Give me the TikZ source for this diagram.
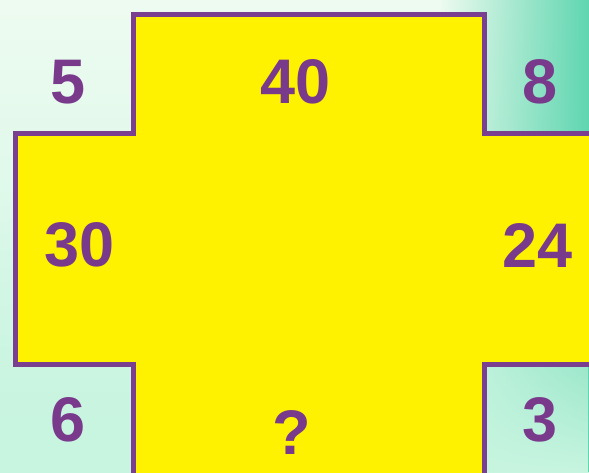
\documentclass[tikz,border=0pt]{standalone}
\usepackage{fontspec}
\setmainfont{Liberation Sans}
\usepackage{xcolor}
\definecolor{crossfill}{HTML}{FFF200}
\definecolor{crossline}{HTML}{7B3F90}
\definecolor{numpurple}{HTML}{7A3A8C}
\definecolor{bgleft}{HTML}{EEFBF0}
\definecolor{bgright}{HTML}{5FD6B0}
\definecolor{bglow}{HTML}{C8F5E0}
\usetikzlibrary{positioning,fadings}

\begin{document}
\begin{tikzpicture}[x=1pt,y=-1pt,
  num/.style={font=\fontsize{63}{63}\selectfont\bfseries,text=numpurple,inner sep=0pt},
  cross/.style={fill=crossfill,draw=crossline,line width=5pt,line join=miter}]
\useasboundingbox (0,0) rectangle (589,472);
\clip (0,0) rectangle (589,472);
% background
\shade[top color=bgleft,bottom color=bglow] (0,0) rectangle (589,472);
\fill[bgright,path fading=west] (440,0) rectangle (589,472);
\fill[bglow,path fading=north] (0,220) rectangle (589,472);
% the cross
\draw[cross] (133,14) -- (484,14) -- (484,133) -- (600,133) -- (600,364) -- (484,364)
  -- (484,480) -- (133,480) -- (133,364) -- (15,364) -- (15,133) -- (133,133) -- cycle;
% numbers
\node[num] (tl) at (68,82)   {5};
\node[num] (tc) at (296,82)  {40};
\node[num] (tr) at (540,82)  {8};
\node[num] (ml) at (80,245)  {30};
\node[num] (mr) at (538,245) {24};
\node[num] (bl) at (68,420)  {6};
\node[num] (bc) at (292,432) {?};
\node[num] (br) at (540,420) {3};
\end{tikzpicture}
\end{document}
